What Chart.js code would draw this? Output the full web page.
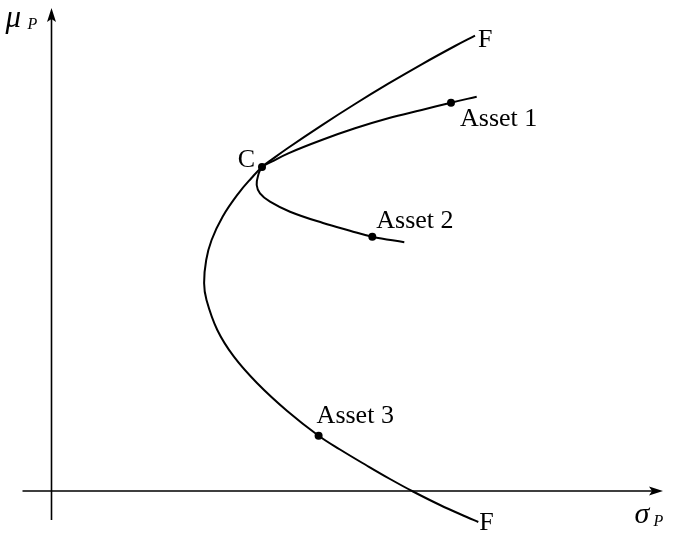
<!DOCTYPE html>
<html>
<head>
<meta charset="utf-8">
<script src="https://cdn.jsdelivr.net/npm/chart.js@4.4.1/dist/chart.umd.min.js"></script>
<style>
  html, body { margin: 0; padding: 0; background: #fff; }
  #wrap { width: 676px; height: 534px; position: relative; }
</style>
</head>
<body>
<div id="wrap"><canvas id="c" width="676" height="534"></canvas></div>
<script>
// Efficient frontier F–F (sigma, mu), traced from top end to bottom end
const frontierSigma = [4.235, 4.035, 3.702, 3.368, 3.035, 2.702, 2.368, 2.205, 2.105, 2.00, 1.87, 1.711, 1.601, 1.547, 1.526, 1.55, 1.658, 1.824, 2.055, 2.357, 2.671, 2.885, 3.152, 3.385, 3.615, 3.885, 4.152, 4.268];
const frontierMu    = [4.554, 4.45, 4.267, 4.073, 3.87, 3.657, 3.433, 3.316, 3.24, 3.13, 2.977, 2.743, 2.51, 2.31, 2.08, 1.91, 1.61, 1.343, 1.08, 0.80, 0.553, 0.415, 0.255, 0.12, -0.005, -0.14, -0.26, -0.31];

// Two-asset curve through Asset 1, C and Asset 2
const pairSigma = [4.252, 3.995, 3.702, 3.368, 3.035, 2.702, 2.368, 2.202, 2.105, 2.068, 2.052, 2.085, 2.185, 2.385, 2.715, 2.985, 3.208, 3.528];
const pairMu    = [3.943, 3.883, 3.81, 3.727, 3.627, 3.51, 3.377, 3.293, 3.24, 3.16, 3.06, 2.977, 2.893, 2.793, 2.68, 2.603, 2.543, 2.487];

// Marked portfolios
const pointNames = ["Asset 1", "Asset 2", "Asset 3", "C"];
const pointSigma = [3.995, 3.208, 2.671, 2.105];
const pointMu    = [3.883, 2.543, 0.553, 3.24];

// Frontier end labels
const endNames = ["F", "F"];
const endSigma = [frontierSigma[0], frontierSigma[frontierSigma.length - 1]];
const endMu    = [frontierMu[0], frontierMu[frontierMu.length - 1]];

const zip = (xs, ys) => xs.map((x, i) => ({ x: x, y: ys[i] }));

// label offsets in pixels from each point: [dx, dy, align]
const pointLabelOffsets = {
  "Asset 1": [9, 23, "left"],
  "Asset 2": [4, -9, "left"],
  "Asset 3": [-2, -13, "left"],
  "C": [-7, 0, "right"]
};

const SERIF = '"Liberation Serif", "DejaVu Serif", serif';

const axesPlugin = {
  id: 'arrowAxes',
  beforeDatasetsDraw(chart) {
    const { ctx, scales: { x, y } } = chart;
    const x0 = x.getPixelForValue(0), y0 = y.getPixelForValue(0);
    const xl = x.getPixelForValue(-0.29), xr = x.getPixelForValue(6.115);
    const yb = y.getPixelForValue(-0.29), yt = y.getPixelForValue(4.83);
    ctx.save();
    ctx.strokeStyle = '#000';
    ctx.fillStyle = '#000';
    ctx.lineWidth = 1.6;
    ctx.beginPath();
    ctx.moveTo(xl, y0); ctx.lineTo(xr - 8, y0);
    ctx.moveTo(x0, yb); ctx.lineTo(x0, yt + 8);
    ctx.stroke();
    // arrow heads
    ctx.beginPath();
    ctx.moveTo(xr, y0); ctx.lineTo(xr - 14, y0 - 4.5); ctx.lineTo(xr - 11, y0); ctx.lineTo(xr - 14, y0 + 4.5); ctx.closePath();
    ctx.fill();
    ctx.beginPath();
    ctx.moveTo(x0, yt); ctx.lineTo(x0 - 4.5, yt + 14); ctx.lineTo(x0, yt + 11); ctx.lineTo(x0 + 4.5, yt + 14); ctx.closePath();
    ctx.fill();
    ctx.restore();
  },
  afterDatasetsDraw(chart) {
    const { ctx, scales: { x, y } } = chart;
    ctx.save();
    ctx.fillStyle = '#000';
    ctx.textBaseline = 'alphabetic';
    ctx.font = '26px ' + SERIF;
    pointNames.forEach((name, i) => {
      const px = x.getPixelForValue(pointSigma[i]);
      const py = y.getPixelForValue(pointMu[i]);
      const [dx, dy, align] = pointLabelOffsets[name];
      ctx.textAlign = align;
      ctx.fillText(name, px + dx, py + dy);
    });
    ctx.textAlign = 'left';
    const endOffsets = [[3, 11], [1, 8]];
    endNames.forEach((name, i) => {
      const px = x.getPixelForValue(endSigma[i]);
      const py = y.getPixelForValue(endMu[i]);
      ctx.fillText(name, px + endOffsets[i][0], py + endOffsets[i][1]);
    });
    // axis titles
    const x0 = x.getPixelForValue(0), y0 = y.getPixelForValue(0);
    ctx.font = 'italic 31px ' + SERIF;
    ctx.fillText('\u03BC', x0 - 46, 27);
    ctx.font = 'italic 16px ' + SERIF;
    ctx.fillText('P', x0 - 24, 29);
    const sx = x.getPixelForValue(5.83);
    ctx.font = 'italic 30px ' + SERIF;
    ctx.fillText('\u03C3', sx, y0 + 32);
    ctx.font = 'italic 16px ' + SERIF;
    ctx.fillText('P', sx + 19, y0 + 35);
    ctx.restore();
  }
};

new Chart(document.getElementById('c'), {
  type: 'scatter',
  data: {
    datasets: [
      {
        label: 'Frontier',
        data: zip(frontierSigma, frontierMu),
        showLine: true,
        borderColor: '#000',
        borderWidth: 2,
        pointRadius: 0,
        tension: 0.4,
        order: 2
      },
      {
        label: 'Two-asset curve',
        data: zip(pairSigma, pairMu),
        showLine: true,
        borderColor: '#000',
        borderWidth: 2,
        pointRadius: 0,
        tension: 0.4,
        order: 2
      },
      {
        label: 'Portfolios',
        data: zip(pointSigma, pointMu),
        showLine: false,
        pointRadius: 4,
        pointBackgroundColor: '#000',
        pointBorderColor: '#000',
        pointBorderWidth: 0,
        order: 1
      }
    ]
  },
  options: {
    responsive: false,
    animation: false,
    layout: { padding: 0, autoPadding: false },
    plugins: { legend: { display: false }, tooltip: { enabled: false }, title: { display: false } },
    scales: {
      x: { type: 'linear', display: false, min: -0.515, max: 6.245 },
      y: { type: 'linear', display: false, min: -0.43, max: 4.91 }
    }
  },
  plugins: [axesPlugin]
});
</script>
</body>
</html>
